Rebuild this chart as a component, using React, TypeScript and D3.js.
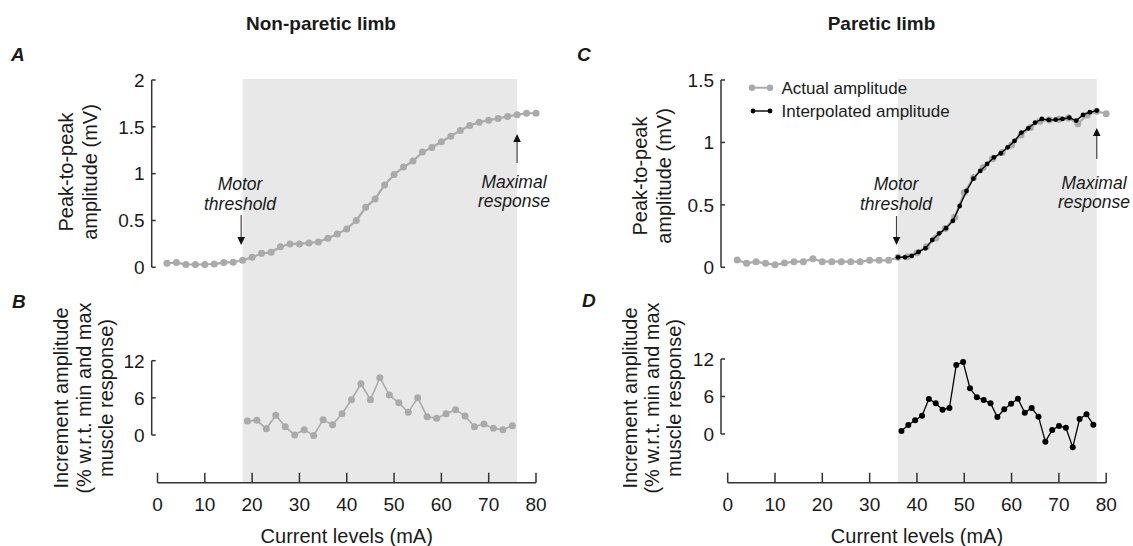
import React from "react";
import * as d3 from "d3";

const FONT = "'Liberation Sans', Arial, Helvetica, sans-serif";

// ---------- data ----------
const currentLevels = [2, 4, 6, 8, 10, 12, 14, 16, 18, 20, 22, 24, 26, 28, 30, 32, 34, 36, 38, 40, 42, 44, 46, 48, 50, 52, 54, 56, 58, 60, 62, 64, 66, 68, 70, 72, 74, 76, 78, 80];
const nonPareticAmplitude = [0.043, 0.05, 0.03, 0.03, 0.03, 0.035, 0.05, 0.055, 0.075, 0.106, 0.149, 0.16, 0.22, 0.25, 0.25, 0.26, 0.27, 0.31, 0.356, 0.41, 0.5, 0.64, 0.73, 0.88, 0.99, 1.07, 1.135, 1.23, 1.28, 1.34, 1.4, 1.46, 1.515, 1.55, 1.57, 1.59, 1.61, 1.63, 1.645, 1.645];

const nonPareticIncrementX = [19, 21, 23, 25, 27, 29, 31, 33, 35, 37, 39, 41, 43, 45, 47, 49, 51, 53, 55, 57, 59, 61, 63, 65, 67, 69, 71, 73, 75];
const nonPareticIncrement = [2.26, 2.37, 1.02, 3.2, 1.35, 0, 0.86, -0.1, 2.47, 1.67, 3.44, 5.7, 8.28, 5.7, 9.25, 6.45, 5.2, 3.66, 6.0, 2.96, 2.69, 3.44, 4.09, 3.06, 1.35, 1.77, 1.07, 0.86, 1.51];

const pareticActual = [0.058, 0.032, 0.045, 0.032, 0.021, 0.034, 0.045, 0.045, 0.069, 0.045, 0.045, 0.045, 0.045, 0.045, 0.056, 0.056, 0.056, 0.08, 0.085, 0.115, 0.165, 0.235, 0.31, 0.4, 0.6, 0.72, 0.8, 0.87, 0.92, 0.98, 1.06, 1.12, 1.17, 1.18, 1.185, 1.195, 1.15, 1.22, 1.25, 1.23];

const interpolatedX = [36.0, 37.45, 38.9, 40.34, 41.79, 43.24, 44.69, 46.14, 47.59, 49.03, 50.48, 51.93, 53.38, 54.83, 56.28, 57.72, 59.17, 60.62, 62.07, 63.52, 64.97, 66.41, 67.86, 69.31, 70.76, 72.21, 73.66, 75.1, 76.55, 78.0];
const interpolatedAmplitude = [0.08, 0.08, 0.091, 0.123, 0.152, 0.219, 0.272, 0.313, 0.371, 0.491, 0.611, 0.71, 0.772, 0.828, 0.881, 0.913, 0.961, 1.012, 1.079, 1.113, 1.159, 1.188, 1.18, 1.182, 1.188, 1.198, 1.175, 1.22, 1.242, 1.255];

const pareticIncrementX = [36.72, 38.17, 39.62, 41.07, 42.52, 43.97, 45.41, 46.86, 48.31, 49.76, 51.21, 52.66, 54.1, 55.55, 57.0, 58.45, 59.9, 61.34, 62.79, 64.24, 65.69, 67.14, 68.59, 70.03, 71.48, 72.93, 74.38, 75.83, 77.28];
const pareticIncrement = [0.48, 1.44, 2.19, 2.93, 5.6, 4.91, 3.89, 4.16, 11.04, 11.52, 7.31, 5.87, 5.44, 4.91, 2.72, 3.95, 4.85, 5.65, 3.41, 4.16, 2.77, -1.23, 0.64, 1.28, 1.01, -2.13, 2.4, 3.15, 1.49];

const xTicks = [0, 10, 20, 30, 40, 50, 60, 70, 80];
const yTicksA = [0, 0.5, 1, 1.5, 2];
const yTicksC = [0, 0.5, 1, 1.5];
const yTicksInc = [0, 6, 12];

const thresholdNonParetic = 18;
const maxNonParetic = 76;
const thresholdParetic = 36;
const maxParetic = 78;

// ---------- scales ----------
const xL = d3.scaleLinear().domain([0, 80]).range([157.5, 536]);
const xR = d3.scaleLinear().domain([0, 80]).range([727.7, 1106.2]);
const yA = d3.scaleLinear().domain([0, 2]).range([267.3, 80]);
const yC = d3.scaleLinear().domain([0, 1.5]).range([267.3, 80]);
const yB = d3.scaleLinear().domain([0, 12]).range([435, 360.7]);
const yD = d3.scaleLinear().domain([0, 12]).range([434, 359]);

const AXIS = "#333";
const GREY = "#aaaaaa";
const TEXT = "#1a1a1a";
const SHADE = "#e8e8e8";
const X_AXIS_Y = 482.7;
const SHADE_TOP = 79;

type Sc = d3.ScaleLinear<number, number>;

function Series({ xs, ys, x, y, color, r, sw }: { xs: number[]; ys: number[]; x: Sc; y: Sc; color: string; r: number; sw: number }) {
  const pts: [number, number][] = xs.map((v, i) => [x(v), y(ys[i])]);
  const line = d3.line()(pts) || "";
  return (
    <g>
      <path d={line} fill="none" stroke={color} strokeWidth={sw} />
      {pts.map((p, i) => (
        <circle key={i} cx={p[0]} cy={p[1]} r={r} fill={color} />
      ))}
    </g>
  );
}

function YAxis({ x0, y, ticks }: { x0: number; y: Sc; ticks: number[] }) {
  const [a, b] = y.range();
  return (
    <g>
      <line x1={x0} x2={x0} y1={a} y2={b} stroke={AXIS} strokeWidth={1.5} />
      {ticks.map((t) => (
        <g key={t}>
          <line x1={x0} x2={x0 + 4} y1={y(t)} y2={y(t)} stroke={AXIS} strokeWidth={1.5} />
          <text x={x0 - 7} y={y(t)} dy="0.36em" textAnchor="end" fontSize={19} fill={TEXT} fontFamily={FONT}>
            {String(t)}
          </text>
        </g>
      ))}
    </g>
  );
}

function XAxis({ x }: { x: Sc }) {
  const [a, b] = x.range();
  return (
    <g>
      <line x1={a} x2={b} y1={X_AXIS_Y} y2={X_AXIS_Y} stroke={AXIS} strokeWidth={1.5} />
      {xTicks.map((t) => (
        <g key={t}>
          <line x1={x(t)} x2={x(t)} y1={X_AXIS_Y} y2={X_AXIS_Y - 10} stroke={AXIS} strokeWidth={1.5} />
          <text x={x(t)} y={511} textAnchor="middle" fontSize={19} fill={TEXT} fontFamily={FONT}>
            {String(t)}
          </text>
        </g>
      ))}
      <text x={(a + b) / 2} y={543} textAnchor="middle" fontSize={20} fill={TEXT} fontFamily={FONT}>
        Current levels (mA)
      </text>
    </g>
  );
}

function RotLabel({ lines, baselines, cy, size }: { lines: string[]; baselines: number[]; cy: number; size: number }) {
  return (
    <g>
      {lines.map((l, i) => (
        <text key={i} transform={`translate(${baselines[i]},${cy}) rotate(-90)`} textAnchor="middle" fontSize={size} fill={TEXT} fontFamily={FONT}>
          {l}
        </text>
      ))}
    </g>
  );
}

function ArrowDown({ x, y1, y2 }: { x: number; y1: number; y2: number }) {
  return (
    <g>
      <line x1={x} x2={x} y1={y1} y2={y2 - 6} stroke="#444" strokeWidth={1.2} />
      <path d={`M${x - 3.8},${y2 - 8} L${x + 3.8},${y2 - 8} L${x},${y2} Z`} fill="#111" />
    </g>
  );
}
function ArrowUp({ x, y1, y2 }: { x: number; y1: number; y2: number }) {
  return (
    <g>
      <line x1={x} x2={x} y1={y1} y2={y2 + 6} stroke="#444" strokeWidth={1.2} />
      <path d={`M${x - 3.8},${y2 + 8} L${x + 3.8},${y2 + 8} L${x},${y2} Z`} fill="#111" />
    </g>
  );
}

function Annot({ x, lines, baselines }: { x: number; lines: string[]; baselines: number[] }) {
  return (
    <g>
      {lines.map((l, i) => (
        <text key={i} x={x} y={baselines[i]} textAnchor="middle" fontSize={17.5} fontStyle="italic" fill={TEXT} fontFamily={FONT}>
          {l}
        </text>
      ))}
    </g>
  );
}

function PanelLetter({ x, y, t }: { x: number; y: number; t: string }) {
  return (
    <text x={x} y={y} fontSize={19} fontWeight="bold" fontStyle="italic" fill={TEXT} fontFamily={FONT}>
      {t}
    </text>
  );
}

export default function App() {
  const incLabel = ["Increment amplitude", "(% w.r.t. min and max", "muscle response)"];
  const ampLabel = ["Peak-to-peak", "amplitude (mV)"];
  return (
    <div style={{ position: "absolute", left: 0, top: 0 }}>
      <svg width={1133} height={546} viewBox="0 0 1133 546" style={{ display: "block", background: "#fff" }}>
        {/* shading */}
        <rect x={xL(thresholdNonParetic)} y={SHADE_TOP} width={xL(maxNonParetic) - xL(thresholdNonParetic)} height={X_AXIS_Y - SHADE_TOP} fill={SHADE} />
        <rect x={xR(thresholdParetic)} y={SHADE_TOP} width={xR(maxParetic) - xR(thresholdParetic)} height={X_AXIS_Y - SHADE_TOP} fill={SHADE} />

        {/* titles */}
        <text x={321} y={30} textAnchor="middle" fontSize={19} fontWeight="bold" fill={TEXT} fontFamily={FONT}>Non-paretic limb</text>
        <text x={881.5} y={30} textAnchor="middle" fontSize={19} fontWeight="bold" fill={TEXT} fontFamily={FONT}>Paretic limb</text>

        <PanelLetter x={11} y={60.5} t="A" />
        <PanelLetter x={577} y={61} t="C" />
        <PanelLetter x={12} y={308} t="B" />
        <PanelLetter x={582} y={307} t="D" />

        {/* axes */}
        <YAxis x0={151.7} y={yA} ticks={yTicksA} />
        <YAxis x0={721} y={yC} ticks={yTicksC} />
        <YAxis x0={151.7} y={yB} ticks={yTicksInc} />
        <YAxis x0={721} y={yD} ticks={yTicksInc} />
        <XAxis x={xL} />
        <XAxis x={xR} />

        <RotLabel lines={ampLabel} baselines={[73, 96.5]} cy={172} size={20} />
        <RotLabel lines={ampLabel} baselines={[647, 671]} cy={176} size={20} />
        <RotLabel lines={incLabel} baselines={[68, 90.5, 113]} cy={398} size={20} />
        <RotLabel lines={incLabel} baselines={[637, 659, 681]} cy={398} size={20} />

        {/* annotations A */}
        <Annot x={240} lines={["Motor", "threshold"]} baselines={[190, 210]} />
        <ArrowDown x={xL(thresholdNonParetic) - 1.5} y1={215} y2={245} />
        <Annot x={514} lines={["Maximal", "response"]} baselines={[188, 207]} />
        <ArrowUp x={xL(maxNonParetic)} y1={163} y2={134} />

        {/* annotations C */}
        <Annot x={896} lines={["Motor", "threshold"]} baselines={[190, 210]} />
        <ArrowDown x={xR(thresholdParetic) - 1.5} y1={216} y2={245} />
        <Annot x={1094} lines={["Maximal", "response"]} baselines={[189, 208]} />
        <ArrowUp x={xR(maxParetic)} y1={159} y2={128} />

        {/* data */}
        <Series xs={currentLevels} ys={nonPareticAmplitude} x={xL} y={yA} color={GREY} r={3.5} sw={2.2} />
        <Series xs={nonPareticIncrementX} ys={nonPareticIncrement} x={xL} y={yB} color={GREY} r={3.5} sw={1.6} />
        <Series xs={currentLevels} ys={pareticActual} x={xR} y={yC} color={GREY} r={3.5} sw={2.2} />
        <Series xs={interpolatedX} ys={interpolatedAmplitude} x={xR} y={yC} color="#000" r={2.4} sw={1.4} />
        <Series xs={pareticIncrementX} ys={pareticIncrement} x={xR} y={yD} color="#000" r={3} sw={1.3} />

        {/* legend */}
        <g>
          <line x1={752} x2={770} y1={87.7} y2={87.7} stroke={GREY} strokeWidth={2} />
          <circle cx={752} cy={87.7} r={3.2} fill={GREY} />
          <circle cx={770} cy={87.7} r={3.2} fill={GREY} />
          <text x={781.5} y={93.5} fontSize={17} fill={TEXT} fontFamily={FONT}>Actual amplitude</text>
          <line x1={753} x2={770} y1={111} y2={111} stroke="#000" strokeWidth={1.4} />
          <circle cx={753} cy={111} r={2.4} fill="#000" />
          <circle cx={770} cy={111} r={2.4} fill="#000" />
          <text x={781.5} y={117} fontSize={17} fill={TEXT} fontFamily={FONT}>Interpolated amplitude</text>
        </g>
      </svg>
    </div>
  );
}
